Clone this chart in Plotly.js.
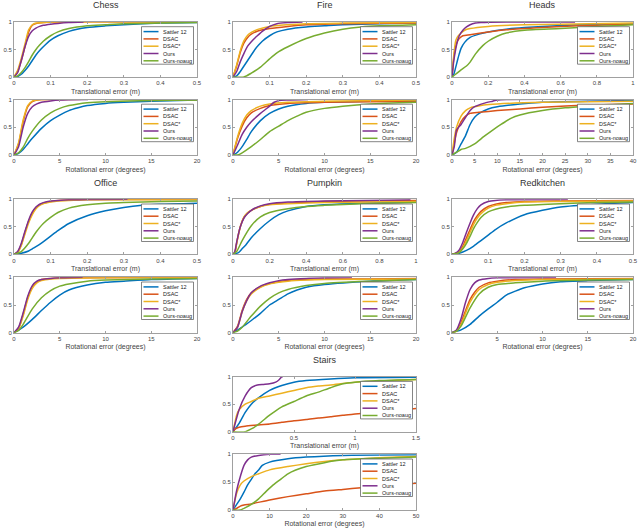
<!DOCTYPE html>
<html><head><meta charset="utf-8">
<script src="https://cdn.plot.ly/plotly-3.0.1.min.js"></script>
<style>html,body{margin:0;padding:0;background:#fff}</style>
</head><body><div id="chart" style="width:640px;height:528px"></div>
<script>
// ---------------- DATA ----------------
const seriesNames = ['Sattler 12', 'DSAC', 'DSAC*', 'Ours', 'Ours-noaug'];
const seriesColors = ['#0072BD', '#D95319', '#EDB120', '#7E2F8E', '#77AC30'];
const sceneTitles = ['Chess', 'Fire', 'Heads', 'Office', 'Pumpkin', 'Redkitchen', 'Stairs'];
const transTitle = 'Translational error (m)';
const rotTitle = 'Rotational error (degrees)';
const transMax = [0.5, 0.5, 1, 0.5, 1, 0.5, 1.5];
const rotMax = [20, 20, 40, 20, 20, 20, 50];
const transDtick = [0.1, 0.1, 0.2, 0.1, 0.2, 0.1, 0.5];
const rotDtick = [5, 5, 5, 5, 5, 5, 10];
const yTickVals = [0, 0.5, 1];

// Chess
const chessT_sattler = [[0,0],[0.01,0.01],[0.02,0.05],[0.03,0.12],[0.04,0.2],[0.05,0.3],[0.06,0.4],[0.07,0.48],[0.08,0.55],[0.1,0.67],[0.12,0.75],[0.15,0.83],[0.2,0.9],[0.25,0.93],[0.3,0.95],[0.4,0.98],[0.5,0.99]];
const chessT_dsac = [[0,0],[0.01,0.1],[0.02,0.3],[0.03,0.55],[0.04,0.82],[0.05,0.94],[0.06,0.97],[0.08,0.99],[0.1,1],[0.5,1]];
const chessT_dsacS = [[0,0],[0.01,0.12],[0.02,0.34],[0.03,0.6],[0.04,0.86],[0.05,0.95],[0.06,0.98],[0.08,0.99],[0.1,1],[0.5,1]];
const chessT_ours = [[0,0],[0.01,0.08],[0.02,0.3],[0.03,0.55],[0.04,0.74],[0.05,0.84],[0.06,0.89],[0.07,0.92],[0.08,0.94],[0.1,0.96],[0.12,0.975],[0.15,0.99],[0.19,1]];
const chessT_noaug = [[0,0],[0.01,0.02],[0.02,0.08],[0.03,0.17],[0.04,0.28],[0.05,0.4],[0.06,0.5],[0.07,0.58],[0.08,0.65],[0.1,0.75],[0.12,0.82],[0.15,0.88],[0.2,0.93],[0.25,0.95],[0.3,0.97],[0.4,0.98],[0.5,0.99]];
const chessR_sattler = [[0,0],[0.5,0.03],[1,0.1],[1.5,0.2],[2,0.3],[3,0.48],[4,0.62],[5,0.72],[6,0.8],[7,0.85],[8,0.89],[10,0.93],[12,0.95],[15,0.97],[20,0.99]];
const chessR_dsac = [[0,0],[0.5,0.2],[1,0.6],[1.5,0.87],[2,0.96],[2.5,0.99],[3,1],[20,1]];
const chessR_dsacS = [[0,0],[0.5,0.22],[1,0.63],[1.5,0.89],[2,0.97],[2.5,0.99],[3,1],[20,1]];
const chessR_ours = [[0,0],[0.5,0.15],[1,0.5],[1.5,0.75],[2,0.87],[2.5,0.92],[3,0.95],[4,0.975],[5,0.99],[6,0.995],[8.1,1]];
const chessR_noaug = [[0,0],[0.5,0.04],[1,0.14],[1.5,0.3],[2,0.43],[3,0.63],[4,0.76],[5,0.84],[6,0.89],[7,0.92],[8,0.94],[10,0.96],[15,0.98],[20,0.99]];

// Fire
const fireT_sattler = [[0,0],[0.01,0.02],[0.02,0.1],[0.03,0.2],[0.04,0.3],[0.05,0.4],[0.06,0.5],[0.07,0.58],[0.08,0.65],[0.1,0.75],[0.12,0.82],[0.15,0.87],[0.2,0.91],[0.25,0.93],[0.3,0.95],[0.4,0.97],[0.5,0.98]];
const fireT_dsac = [[0,0],[0.01,0.2],[0.02,0.45],[0.03,0.62],[0.04,0.72],[0.05,0.78],[0.07,0.84],[0.1,0.88],[0.15,0.92],[0.2,0.95],[0.3,0.97],[0.5,0.98]];
const fireT_dsacS = [[0,0],[0.01,0.22],[0.02,0.48],[0.03,0.66],[0.04,0.76],[0.05,0.81],[0.07,0.87],[0.1,0.92],[0.15,0.95],[0.2,0.97],[0.3,0.98],[0.5,0.99]];
const fireT_ours = [[0,0],[0.01,0.1],[0.02,0.28],[0.03,0.43],[0.04,0.56],[0.05,0.64],[0.06,0.71],[0.07,0.77],[0.08,0.83],[0.1,0.92],[0.12,0.97],[0.15,0.99],[0.19,1]];
const fireT_noaug = [[0,0],[0.03,0],[0.05,0.07],[0.075,0.18],[0.1,0.33],[0.12,0.44],[0.15,0.55],[0.2,0.7],[0.25,0.8],[0.3,0.87],[0.35,0.91],[0.4,0.93],[0.5,0.95]];
const fireR_sattler = [[0,0],[0.5,0.05],[1,0.15],[1.5,0.28],[2,0.42],[3,0.62],[4,0.75],[5,0.83],[6,0.88],[8,0.93],[10,0.95],[15,0.97],[20,0.98]];
const fireR_dsac = [[0,0],[0.5,0.3],[1,0.52],[1.5,0.67],[2,0.76],[3,0.84],[4,0.89],[6,0.93],[10,0.95],[15,0.96],[20,0.97]];
const fireR_dsacS = [[0,0],[0.5,0.33],[1,0.57],[1.5,0.72],[2,0.8],[3,0.88],[4,0.92],[6,0.95],[10,0.97],[20,0.99]];
const fireR_ours = [[0,0],[0.5,0.18],[1,0.37],[1.5,0.5],[2,0.6],[3,0.75],[4,0.88],[4.5,0.95],[5,0.98],[6,0.99],[8.2,1]];
const fireR_noaug = [[0,0],[0.5,0],[1,0.04],[2,0.15],[3,0.28],[4,0.42],[5,0.52],[6,0.62],[7,0.7],[8,0.77],[10,0.84],[12,0.88],[15,0.92],[20,0.95]];

// Heads
const headsT_sattler = [[0,0],[0.01,0.05],[0.02,0.17],[0.03,0.3],[0.04,0.42],[0.05,0.52],[0.07,0.63],[0.1,0.72],[0.15,0.78],[0.2,0.82],[0.3,0.87],[0.4,0.9],[0.5,0.92],[0.7,0.95],[1,0.97]];
const headsT_dsac = [[0,0],[0.01,0.35],[0.02,0.55],[0.03,0.65],[0.04,0.7],[0.06,0.75],[0.1,0.77],[0.2,0.82],[0.3,0.86],[0.5,0.9],[0.7,0.93],[1,0.96]];
const headsT_dsacS = [[0,0],[0.01,0.4],[0.02,0.65],[0.03,0.73],[0.05,0.8],[0.07,0.85],[0.1,0.88],[0.2,0.92],[0.4,0.95],[0.6,0.96],[1,0.98]];
const headsT_ours = [[0,0],[0.01,0.3],[0.02,0.5],[0.03,0.65],[0.04,0.75],[0.06,0.85],[0.08,0.91],[0.1,0.95],[0.13,0.98],[0.16,0.99],[0.3,1],[0.68,1]];
const headsT_noaug = [[0,0],[0.02,0.05],[0.05,0.13],[0.08,0.2],[0.1,0.27],[0.13,0.42],[0.17,0.57],[0.2,0.65],[0.25,0.74],[0.3,0.8],[0.4,0.85],[0.6,0.88],[0.8,0.92],[1,0.95]];
const headsR_sattler = [[0,0],[1,0.05],[2,0.2],[3,0.35],[4,0.55],[5,0.68],[6,0.75],[8,0.83],[10,0.87],[15,0.92],[20,0.95],[30,0.97],[40,0.98]];
const headsR_dsac = [[0,0],[0.5,0.2],[1,0.4],[2,0.6],[3,0.7],[4,0.75],[6,0.77],[10,0.8],[15,0.83],[20,0.86],[30,0.9],[40,0.92]];
const headsR_dsacS = [[0,0],[0.5,0.3],[1,0.5],[2,0.7],[3,0.8],[4,0.85],[5,0.87],[7,0.9],[10,0.92],[20,0.95],[40,0.97]];
const headsR_ours = [[0,0],[0.5,0.15],[1,0.45],[2,0.55],[3,0.68],[4,0.8],[5,0.87],[7,0.93],[9,0.97],[10,0.99],[12,1],[38,1]];
const headsR_noaug = [[0,0],[1,0.05],[2,0.1],[3,0.12],[5,0.2],[7,0.33],[9,0.45],[11,0.56],[13,0.66],[15,0.72],[20,0.8],[25,0.85],[30,0.88],[40,0.93]];

// Office
const officeT_sattler = [[0,0],[0.02,0.02],[0.04,0.06],[0.05,0.1],[0.07,0.18],[0.1,0.33],[0.12,0.43],[0.15,0.56],[0.2,0.7],[0.25,0.79],[0.3,0.85],[0.35,0.89],[0.4,0.91],[0.5,0.93]];
const officeT_dsac = [[0,0],[0.01,0.04],[0.02,0.18],[0.03,0.4],[0.04,0.6],[0.05,0.75],[0.06,0.85],[0.07,0.9],[0.08,0.93],[0.1,0.96],[0.12,0.98],[0.15,0.99],[0.2,0.995],[0.5,1]];
const officeT_dsacS = [[0,0],[0.01,0.03],[0.02,0.16],[0.03,0.37],[0.04,0.57],[0.05,0.72],[0.06,0.83],[0.07,0.89],[0.08,0.92],[0.1,0.95],[0.12,0.97],[0.15,0.98],[0.2,0.99],[0.5,0.99]];
const officeT_ours = [[0,0],[0.01,0.05],[0.02,0.2],[0.03,0.42],[0.04,0.62],[0.05,0.77],[0.06,0.86],[0.07,0.91],[0.08,0.94],[0.1,0.97],[0.12,0.98],[0.15,0.99],[0.2,0.995],[0.31,1]];
const officeT_noaug = [[0,0],[0.02,0.05],[0.04,0.2],[0.06,0.4],[0.08,0.56],[0.1,0.67],[0.12,0.76],[0.15,0.84],[0.2,0.9],[0.25,0.93],[0.3,0.94],[0.4,0.96],[0.5,0.97]];
const officeR_sattler = [[0,0],[1,0.1],[2,0.24],[3,0.4],[4,0.55],[5,0.68],[6,0.77],[8,0.86],[10,0.91],[12,0.93],[15,0.96],[20,0.98]];
const officeR_dsac = [[0,0],[0.5,0.08],[1,0.33],[1.5,0.63],[2,0.83],[2.5,0.92],[3,0.96],[4,0.98],[5,0.99],[20,1]];
const officeR_dsacS = [[0,0],[0.5,0.07],[1,0.3],[1.5,0.6],[2,0.8],[2.5,0.9],[3,0.94],[4,0.97],[5,0.98],[10,0.99],[20,0.995]];
const officeR_ours = [[0,0],[0.5,0.1],[1,0.36],[1.5,0.66],[2,0.85],[2.5,0.93],[3,0.96],[4,0.98],[5,0.99],[7.5,1]];
const officeR_noaug = [[0,0],[0.5,0.04],[1,0.15],[2,0.43],[3,0.63],[4,0.76],[5,0.84],[6,0.88],[8,0.93],[10,0.95],[15,0.97],[20,0.98]];

// Pumpkin
const pumpkinT_sattler = [[0,0],[0.03,0.03],[0.05,0.1],[0.07,0.17],[0.1,0.3],[0.15,0.47],[0.2,0.61],[0.25,0.72],[0.3,0.79],[0.4,0.87],[0.5,0.9],[0.7,0.93],[1,0.95]];
const pumpkinT_dsac = [[0,0],[0.01,0.03],[0.02,0.2],[0.03,0.37],[0.04,0.5],[0.06,0.67],[0.08,0.75],[0.1,0.8],[0.15,0.87],[0.2,0.91],[0.3,0.93],[0.5,0.96],[0.7,0.97],[1,0.98]];
const pumpkinT_dsacS = [[0,0],[0.01,0.03],[0.02,0.2],[0.04,0.5],[0.06,0.68],[0.08,0.76],[0.1,0.8],[0.15,0.87],[0.2,0.9],[0.3,0.92],[0.5,0.94],[1,0.96]];
const pumpkinT_ours = [[0,0],[0.01,0.05],[0.02,0.22],[0.04,0.5],[0.06,0.66],[0.08,0.74],[0.1,0.8],[0.15,0.88],[0.2,0.92],[0.3,0.95],[0.5,0.97],[0.7,0.98],[0.97,0.99]];
const pumpkinT_noaug = [[0,0],[0.02,0.05],[0.05,0.25],[0.1,0.52],[0.15,0.68],[0.2,0.76],[0.3,0.83],[0.4,0.87],[0.5,0.89],[0.7,0.92],[1,0.94]];
const pumpkinR_sattler = [[0,0],[1,0.1],[2,0.22],[3,0.35],[4,0.5],[5,0.6],[6,0.7],[7,0.77],[8,0.82],[10,0.87],[15,0.93],[20,0.96]];
const pumpkinR_dsac = [[0,0],[0.5,0.12],[1,0.4],[1.5,0.6],[2,0.72],[3,0.83],[4,0.89],[5,0.92],[6,0.94],[8,0.96],[10,0.97],[15,0.97],[20,0.98]];
const pumpkinR_dsacS = [[0,0],[0.5,0.1],[1,0.38],[1.5,0.58],[2,0.7],[3,0.82],[4,0.88],[5,0.91],[6,0.93],[8,0.95],[10,0.96],[20,0.97]];
const pumpkinR_ours = [[0,0],[0.5,0.1],[1,0.38],[1.5,0.58],[2,0.72],[3,0.84],[4,0.9],[5,0.94],[6,0.96],[8,0.98],[10,0.99],[13,1]];
const pumpkinR_noaug = [[0,0],[0.5,0.03],[1,0.1],[2,0.3],[3,0.48],[4,0.62],[5,0.72],[6,0.78],[8,0.85],[10,0.89],[15,0.93],[20,0.96]];

// Redkitchen
const redkitchenT_sattler = [[0,0],[0.02,0.02],[0.04,0.07],[0.06,0.15],[0.08,0.25],[0.1,0.35],[0.12,0.45],[0.15,0.57],[0.2,0.72],[0.25,0.8],[0.3,0.86],[0.4,0.91],[0.5,0.94]];
const redkitchenT_dsac = [[0,0],[0.02,0.05],[0.03,0.15],[0.04,0.3],[0.05,0.45],[0.06,0.6],[0.07,0.7],[0.08,0.78],[0.1,0.87],[0.12,0.91],[0.15,0.94],[0.2,0.96],[0.3,0.97],[0.5,0.98]];
const redkitchenT_dsacS = [[0,0],[0.02,0.04],[0.03,0.12],[0.04,0.25],[0.05,0.4],[0.06,0.55],[0.07,0.66],[0.08,0.74],[0.1,0.84],[0.12,0.89],[0.15,0.92],[0.2,0.95],[0.3,0.96],[0.5,0.97]];
const redkitchenT_ours = [[0,0],[0.01,0.02],[0.02,0.08],[0.03,0.22],[0.04,0.4],[0.05,0.57],[0.06,0.72],[0.07,0.83],[0.08,0.9],[0.1,0.96],[0.12,0.98],[0.15,0.99],[0.32,1]];
const redkitchenT_noaug = [[0,0],[0.02,0.03],[0.03,0.1],[0.04,0.2],[0.05,0.33],[0.06,0.47],[0.07,0.58],[0.08,0.67],[0.1,0.77],[0.12,0.82],[0.15,0.86],[0.2,0.89],[0.3,0.92],[0.4,0.94],[0.5,0.95]];
const redkitchenR_sattler = [[0,0],[1,0.05],[2,0.15],[3,0.3],[4,0.43],[5,0.55],[6,0.68],[7,0.75],[8,0.81],[10,0.88],[12,0.92],[15,0.94],[20,0.96]];
const redkitchenR_dsac = [[0,0],[0.5,0.04],[1,0.18],[1.5,0.4],[2,0.6],[2.5,0.73],[3,0.82],[4,0.9],[5,0.93],[7,0.96],[10,0.97],[20,0.98]];
const redkitchenR_dsacS = [[0,0],[0.5,0.03],[1,0.15],[2,0.55],[3,0.78],[4,0.87],[5,0.91],[7,0.94],[10,0.96],[20,0.97]];
const redkitchenR_ours = [[0,0],[0.5,0.05],[1,0.25],[1.5,0.55],[2,0.78],[2.5,0.9],[3,0.95],[4,0.98],[5,0.99],[11.5,1]];
const redkitchenR_noaug = [[0,0],[0.5,0.03],[1,0.12],[2,0.45],[3,0.7],[4,0.82],[5,0.87],[7,0.9],[10,0.93],[15,0.95],[20,0.96]];

// Stairs
const stairsT_sattler = [[0,0],[0.05,0.15],[0.1,0.35],[0.15,0.5],[0.2,0.6],[0.3,0.75],[0.4,0.84],[0.5,0.9],[0.6,0.93],[0.8,0.96],[1,0.98],[1.5,0.99]];
const stairsT_dsac = [[0,0],[0.02,0.05],[0.05,0.08],[0.1,0.1],[0.2,0.12],[0.3,0.14],[0.4,0.17],[0.5,0.2],[0.6,0.22],[0.7,0.25],[0.8,0.27],[0.9,0.3],[1,0.32],[1.2,0.36],[1.4,0.4],[1.5,0.42]];
const stairsT_dsacS = [[0,0],[0.03,0.3],[0.05,0.4],[0.1,0.5],[0.15,0.55],[0.2,0.6],[0.3,0.65],[0.4,0.7],[0.5,0.75],[0.6,0.8],[0.7,0.83],[0.8,0.85],[1,0.9],[1.2,0.92],[1.5,0.95]];
const stairsT_ours = [[0,0],[0.05,0.4],[0.1,0.65],[0.15,0.8],[0.2,0.85],[0.25,0.86],[0.3,0.87],[0.35,0.9],[0.38,0.95],[0.4,1],[0.41,1]];
const stairsT_noaug = [[0,0],[0.1,0],[0.15,0.05],[0.2,0.12],[0.3,0.3],[0.35,0.38],[0.4,0.45],[0.5,0.55],[0.6,0.65],[0.7,0.72],[0.8,0.8],[0.9,0.87],[1,0.9],[1.2,0.93],[1.5,0.95]];
const stairsR_sattler = [[0,0],[1,0.1],[2,0.2],[3,0.32],[4,0.45],[5,0.55],[6,0.65],[7,0.72],[8,0.8],[10,0.86],[15,0.92],[20,0.95],[30,0.98],[50,0.99]];
const stairsR_dsac = [[0,0],[1,0.03],[2,0.07],[3,0.09],[5,0.11],[10,0.18],[15,0.24],[20,0.29],[25,0.34],[30,0.37],[35,0.4],[40,0.43],[50,0.48]];
const stairsR_dsacS = [[0,0],[1,0.3],[2,0.45],[3,0.52],[5,0.6],[7,0.65],[10,0.72],[15,0.78],[20,0.83],[25,0.87],[30,0.9],[40,0.94],[50,0.96]];
const stairsR_ours = [[0,0],[1,0.35],[2,0.6],[3,0.8],[4,0.9],[5,0.95],[7,0.98],[10,1],[13,1]];
const stairsR_noaug = [[0,0],[2,0],[3,0.03],[5,0.1],[7,0.2],[9,0.33],[11,0.45],[13,0.55],[15,0.65],[20,0.78],[25,0.85],[30,0.9],[40,0.93],[50,0.95]];

const panelData = [
  [[chessT_sattler, chessT_dsac, chessT_dsacS, chessT_ours, chessT_noaug],
   [chessR_sattler, chessR_dsac, chessR_dsacS, chessR_ours, chessR_noaug]],
  [[fireT_sattler, fireT_dsac, fireT_dsacS, fireT_ours, fireT_noaug],
   [fireR_sattler, fireR_dsac, fireR_dsacS, fireR_ours, fireR_noaug]],
  [[headsT_sattler, headsT_dsac, headsT_dsacS, headsT_ours, headsT_noaug],
   [headsR_sattler, headsR_dsac, headsR_dsacS, headsR_ours, headsR_noaug]],
  [[officeT_sattler, officeT_dsac, officeT_dsacS, officeT_ours, officeT_noaug],
   [officeR_sattler, officeR_dsac, officeR_dsacS, officeR_ours, officeR_noaug]],
  [[pumpkinT_sattler, pumpkinT_dsac, pumpkinT_dsacS, pumpkinT_ours, pumpkinT_noaug],
   [pumpkinR_sattler, pumpkinR_dsac, pumpkinR_dsacS, pumpkinR_ours, pumpkinR_noaug]],
  [[redkitchenT_sattler, redkitchenT_dsac, redkitchenT_dsacS, redkitchenT_ours, redkitchenT_noaug],
   [redkitchenR_sattler, redkitchenR_dsac, redkitchenR_dsacS, redkitchenR_ours, redkitchenR_noaug]],
  [[stairsT_sattler, stairsT_dsac, stairsT_dsacS, stairsT_ours, stairsT_noaug],
   [stairsR_sattler, stairsR_dsac, stairsR_dsacS, stairsR_ours, stairsR_noaug]]
];

// ---------------- LAYOUT ----------------
const W = 640, H = 528;
const colPx = [[14,197],[233,416],[452,633]];
const blockPx = [
  {T:[22,77], R:[99.5,155], title:5.5},
  {T:[199.3,254.3], R:[277.3,332.7], title:183},
  {T:[376.7,431.7], R:[454.3,510], title:360}
];
const panelPos = [[0,0],[1,0],[2,0],[0,1],[1,1],[2,1],[1,2]];
const FONT = 'Liberation Sans, Arial, sans-serif';
const fx = px => px / W;
const fy = px => 1 - px / H;

const traces = [];
const layout = {
  width: W, height: H,
  margin: {l:0, r:0, t:0, b:0},
  paper_bgcolor: '#fff', plot_bgcolor: '#fff',
  showlegend: false,
  font: {family: FONT, size: 6, color: '#262626'},
  shapes: [], annotations: []
};

panelData.forEach((pd, p) => {
  const [c, b] = panelPos[p];
  const xs = colPx[c];
  const blk = blockPx[b];
  layout.annotations.push({
    xref:'paper', yref:'paper', x: fx((xs[0]+xs[1])/2), y: fy(blk.title),
    xanchor:'center', yanchor:'middle', showarrow:false,
    text: sceneTitles[p], font:{family:FONT, size:9, color:'#333', weight:'normal'}
  });
  pd.forEach((kindData, k) => {
    const n = p*2 + k + 1;
    const ys = k === 0 ? blk.T : blk.R;
    const xName = n === 1 ? 'x' : 'x' + n;
    const yName = n === 1 ? 'y' : 'y' + n;
    const xKey = n === 1 ? 'xaxis' : 'xaxis' + n;
    const yKey = n === 1 ? 'yaxis' : 'yaxis' + n;
    const xmax = k === 0 ? transMax[p] : rotMax[p];
    const dt = k === 0 ? transDtick[p] : rotDtick[p];
    layout[xKey] = {
      domain: [fx(xs[0]), fx(xs[1])], anchor: yName,
      range: [0, xmax], dtick: dt, tick0: 0,
      showline: true, mirror: 'ticks', linecolor: '#a0a0a0', linewidth: 1,
      ticks: 'inside', ticklen: 2, tickcolor: '#a0a0a0',
      showgrid: false, zeroline: false, fixedrange: true,
      tickfont: {family: FONT, size: 6, color: '#444'},
      title: {text: k === 0 ? transTitle : rotTitle, standoff: 3,
              font: {family: FONT, size: 7, color: '#444'}}
    };
    layout[yKey] = {
      domain: [fy(ys[1]), fy(ys[0])], anchor: xName,
      range: [0, 1], tickvals: yTickVals,
      showline: true, mirror: 'ticks', linecolor: '#a0a0a0', linewidth: 1,
      ticks: 'inside', ticklen: 2, tickcolor: '#a0a0a0',
      showgrid: false, zeroline: false, fixedrange: true,
      tickfont: {family: FONT, size: 6, color: '#444'}
    };
    kindData.forEach((pts, s) => {
      traces.push({
        type: 'scatter', mode: 'lines', xaxis: xName, yaxis: yName,
        name: seriesNames[s],
        x: pts.map(q => q[0]), y: pts.map(q => q[1]),
        line: {color: seriesColors[s], width: 1.5, shape: 'spline', smoothing: 0.6},
        cliponaxis: true, hoverinfo: 'skip'
      });
    });
    // legend box (drawn as shapes + text)
    const bw = 52, bh = 37.5;
    const bx1 = xs[1] - 3.5, bx0 = bx1 - bw;
    const by0 = ys[0] + 4.7, by1 = by0 + bh;
    layout.shapes.push({type:'rect', xref:'paper', yref:'paper', layer:'above',
      x0: fx(bx0), x1: fx(bx1), y0: fy(by1), y1: fy(by0),
      line:{color:'#666', width:0.8}, fillcolor:'#fff'});
    seriesNames.forEach((nm, s) => {
      const yc = by0 + 4.9 + s*7.3;
      layout.shapes.push({type:'line', xref:'paper', yref:'paper', layer:'above',
        x0: fx(bx0+2), x1: fx(bx0+17), y0: fy(yc), y1: fy(yc),
        line:{color: seriesColors[s], width:1.5}});
      layout.annotations.push({xref:'paper', yref:'paper', x: fx(bx0+19), y: fy(yc),
        xanchor:'left', yanchor:'middle', showarrow:false, text: nm,
        font:{family:FONT, size:5.5, color:'#222'}});
    });
  });
});

Plotly.newPlot('chart', traces, layout, {staticPlot: true, displayModeBar: false});
</script>
</body></html>
